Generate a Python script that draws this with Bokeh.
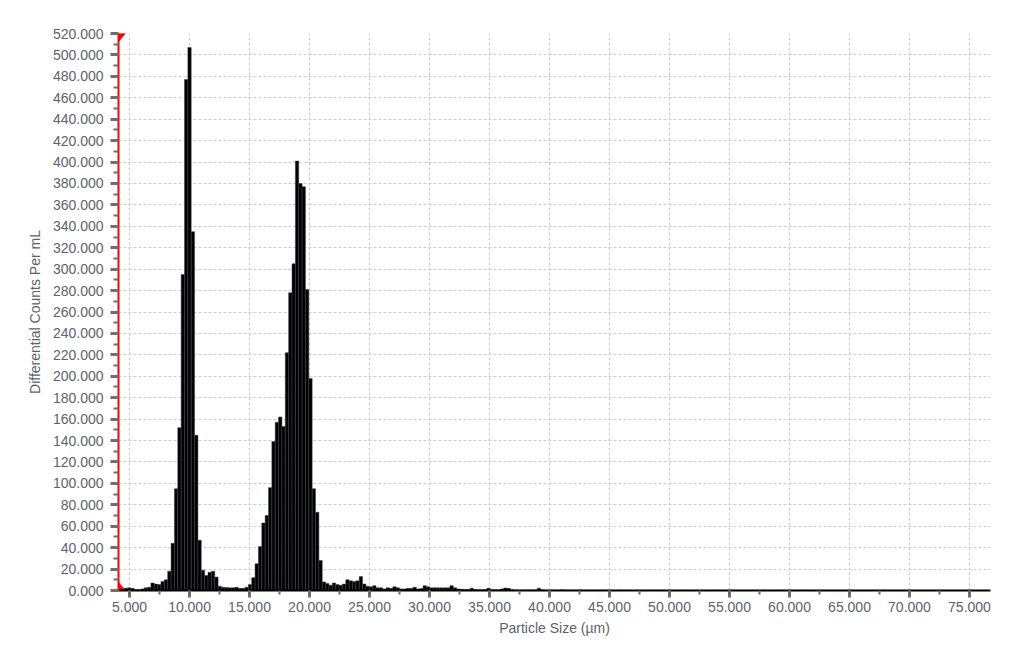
import numpy as np
from bokeh.plotting import figure
from bokeh.models import Range1d, SingleIntervalTicker, NumeralTickFormatter, ColumnDataSource
from bokeh.embed import file_html
from bokeh.resources import INLINE

# ---- data (differential counts per mL per size channel) ----
bin_start = 4.12      # centre of first channel, µm
bin_width = 0.28      # channel width, µm
counts = [
    2.0, 1.5, 2.0, 2.5, 2.0, 1.0, 0.8, 1.5, 2.5, 3.0,
    7.0, 6.0, 5.5, 8.5, 10.0, 18.0, 44.0, 95.0, 152.0, 295.0,
    477.0, 507.0, 335.0, 145.0, 47.0, 19.0, 14.0, 17.0, 18.0, 12.5,
    4.0, 3.0, 2.8, 2.5, 2.5, 3.0, 2.0, 2.0, 3.0, 5.5,
    12.0, 25.0, 41.0, 63.0, 70.0, 96.0, 139.0, 157.0, 162.0, 153.0,
    222.0, 278.0, 305.0, 401.0, 380.0, 377.0, 281.0, 198.0, 95.0, 73.0,
    28.0, 8.0, 6.5, 5.0, 7.0, 5.5, 5.0, 6.0, 10.0, 9.0,
    8.5, 9.0, 13.0, 6.0, 4.0, 3.5, 4.5, 2.5, 2.5, 1.5,
    2.5, 2.0, 3.5, 2.5, 1.5, 1.5, 2.0, 2.0, 3.0, 1.5,
    1.8, 4.5, 3.5, 2.5, 2.5, 2.5, 2.5, 2.5, 2.5, 4.5,
    2.5, 1.5, 1.2, 1.0, 1.0, 2.2, 1.0, 0.8, 0.8, 1.0,
    2.2, 0.8, 0.6, 0.6, 1.5, 2.3, 2.0, 0.8, 0.5, 0.5,
    0.5, 0.4, 0.4, 0.5, 0.5, 2.2, 0.6, 0.4, 0.3, 0.5,
    0.4, 0.3, 0.6, 0.3, 0.2, 0.4, 0.3, 0.5, 0.3, 0.2,
    0.3, 0.4, 0.2, 0.3, 0.5, 0.3, 0.2, 0.3, 0.2, 0.4,
    0.3, 0.2, 0.3, 0.2, 0.3, 0.4, 0.2, 0.2, 0.3, 0.2,
    0.2, 0.3, 0.2, 0.2, 0.3, 0.2, 0.2, 0.2, 0.3, 0.2,
    0.2, 0.2, 0.3, 0.2, 0.2, 0.2, 0.2, 0.3, 0.2, 0.2,
    0.2, 0.2, 0.2, 0.3, 0.2, 0.2, 0.2, 0.2, 0.2, 0.2,
    0.3, 0.2, 0.2, 0.2, 0.2, 0.2, 0.2, 0.3, 0.2, 0.2,
    0.2, 0.2, 0.2, 0.2, 0.2, 0.3, 0.2, 0.2, 0.2, 0.2,
    0.2, 0.2, 0.2, 0.2, 0.2, 0.2, 0.2, 0.2, 0.3, 0.2,
    0.2, 0.2, 0.2, 0.2, 0.2, 0.2, 0.2, 0.2, 0.2, 0.2,
    0.2, 0.2, 0.2, 0.2, 0.2, 0.2, 0.2, 0.2, 0.2, 0.2,
    0.2, 0.2, 0.2, 0.2, 0.2, 0.2, 0.2, 0.2, 0.2, 0.2,
    0.2, 0.2, 0.2, 0.2, 0.2, 0.2, 0.2, 0.2, 0.2,
]
x_min, x_max = 4.08, 76.75
y_min, y_max = 0.0, 520.0
x_label = "Particle Size (µm)"
y_label = "Differential Counts Per mL"
cursor_x = x_min   # position of the red cursor

centers = bin_start + bin_width * np.arange(len(counts))
src = ColumnDataSource(dict(x=centers, top=counts))

FONT = "Liberation Sans"
GREY = "#5c636b"

p = figure(width=1008, height=643, output_backend="svg", toolbar_location=None,
           x_range=Range1d(x_min, x_max), y_range=Range1d(y_min, y_max),
           min_border_left=118, min_border_right=18, min_border_top=33, min_border_bottom=53)
p.outline_line_color = None
p.background_fill_color = "white"

p.vbar(x="x", top="top", width=bin_width, bottom=0, source=src,
       fill_color="black", line_color="#3a4450", line_width=0.5)

# cursor markers (red) at the left edge
tri_w = 0.55
tri_h = 7.5
p.patch([cursor_x, cursor_x + tri_w, cursor_x], [y_max, y_max, y_max - tri_h],
        fill_color="red", line_color="red", line_width=1)
p.patch([cursor_x, cursor_x + tri_w, cursor_x], [y_min, y_min, y_min + tri_h],
        fill_color="red", line_color="red", line_width=1)

# axes
xa = p.xaxis[0]
xa.ticker = SingleIntervalTicker(interval=5, num_minor_ticks=2)
xa.formatter = NumeralTickFormatter(format="0.000")
xa.axis_label = x_label
xa.axis_line_color = "black"
xa.axis_line_width = 2
xa.major_tick_line_color = "#6e6e6e"
xa.major_tick_line_width = 3
xa.major_tick_out = 7
xa.major_tick_in = 0
xa.minor_tick_line_color = "#6e6e6e"
xa.minor_tick_line_width = 2
xa.minor_tick_out = 4
xa.minor_tick_in = 0
xa.major_label_standoff = 4
xa.axis_label_standoff = 5

ya = p.yaxis[0]
ya.ticker = SingleIntervalTicker(interval=20, num_minor_ticks=2)
ya.formatter = NumeralTickFormatter(format="0.000")
ya.axis_label = y_label
ya.axis_line_color = "red"
ya.axis_line_width = 2
ya.major_tick_line_color = "#6e6e6e"
ya.major_tick_line_width = 3
ya.major_tick_out = 8
ya.major_tick_in = 0
ya.minor_tick_line_color = "#6e6e6e"
ya.minor_tick_line_width = 2
ya.minor_tick_out = 5
ya.minor_tick_in = 0
ya.major_label_standoff = 7
ya.axis_label_standoff = 7

for ax in (xa, ya):
    ax.major_label_text_font = FONT
    ax.major_label_text_font_size = "14px"
    ax.major_label_text_color = GREY
    ax.axis_label_text_font = FONT
    ax.axis_label_text_font_size = "14px"
    ax.axis_label_text_font_style = "normal"
    ax.axis_label_text_color = GREY

for g in (p.xgrid[0], p.ygrid[0]):
    g.grid_line_color = "#cccccc"
    g.grid_line_dash = "3 2"
    g.grid_line_width = 1

open("out.html", "w").write(file_html(p, INLINE))
